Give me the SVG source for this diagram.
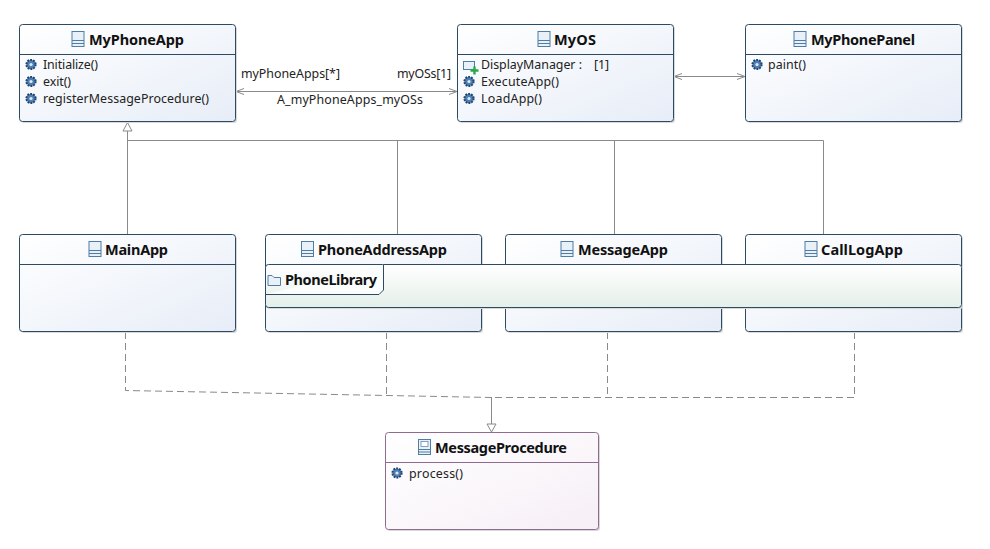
<svg xmlns="http://www.w3.org/2000/svg" width="990" height="549" viewBox="0 0 990 549">
<style>
text{font-family:"Noto Sans","Open Sans","Liberation Sans",sans-serif;fill:#222}
.t{font-size:14.5px;font-weight:700;fill:#111}
.m{font-size:12.4px}
.l{font-size:12.4px;fill:#222}
.box{fill:url(#blue);stroke:#2c4a63;stroke-width:1}
.ifc{fill:url(#pink);stroke:#8d6c8f;stroke-width:1}
.sh{fill:#d9d9d9}
.div{stroke:#2c4a63;stroke-width:1}
.c{fill:none;stroke:#8a8a8a;stroke-width:1}
.d{fill:none;stroke:#8a8a8a;stroke-width:1;stroke-dasharray:7 4}
</style>
<defs>
<linearGradient id="blue" x1="0" y1="0" x2="1" y2="1"><stop offset="0" stop-color="#ffffff"/><stop offset="1" stop-color="#e7edf7"/></linearGradient>
<linearGradient id="pink" x1="0" y1="0" x2="1" y2="1"><stop offset="0" stop-color="#ffffff"/><stop offset="1" stop-color="#f6eff6"/></linearGradient>
<linearGradient id="green" x1="0" y1="0" x2="0" y2="1"><stop offset="0" stop-color="#ffffff"/><stop offset="1" stop-color="#e4efe9"/></linearGradient>
<g id="gear"><circle r="4.600" fill="#4f7fb0" stroke="#1c4472" stroke-width="2" stroke-dasharray="1.800 1.100"/><circle r="1.600" fill="#dfe9f4"/></g>
<g id="cls"><rect x="-6" y="-7.500" width="12" height="15" fill="#e8f0f8" stroke="#4f7da6"/><path d="M-6 1.500H6M-6 4.500H6" stroke="#4f7da6" fill="none"/></g>
<g id="itf"><rect x="-6" y="-7.500" width="12" height="15" fill="#e8f0f8" stroke="#4f7da6"/><path d="M-6 2.500H6M-6 5H6" stroke="#4f7da6" fill="none"/><rect x="-3.500" y="-5.500" width="7" height="5" fill="#fff" stroke="#4f7da6" stroke-width=".7"/></g>
</defs>
<rect width="990" height="549" fill="#fff"/>

<g id="connectors">
<path class="c" d="M236 91.500H457M244 88.500L236 91.500L244 94.500M449 88.500L457 91.500L449 94.500"/>
<path class="c" d="M674 76.500H745M682 73.500L674 76.500L682 79.500M737 73.500L745 76.500L737 79.500"/>
<path class="c" d="M127.500 131V234M127.500 140.500H823.500V234M397.500 140.500V234M614.500 140.500V234"/>
<path d="M127.500 122.500L123 131H132Z" fill="#fff" stroke="#8a8a8a"/>
<path class="d" d="M125.500 332V390.500L491.500 397.500"/>
<path class="d" d="M386.500 332V397"/>
<path class="d" d="M607.500 332V397"/>
<path class="d" d="M854.500 332V397.500H491.500"/>
<path class="c" d="M491.500 397V424"/>
<path d="M491.500 432L487 424H496Z" fill="#fff" stroke="#8a8a8a"/>
<text class="l" x="241" y="77.500" textLength="99">myPhoneApps[*]</text>
<text class="l" x="397" y="77.500" textLength="54">myOSs[1]</text>
<text class="l" x="277" y="103.500" textLength="146">A_myPhoneApps_myOSs</text>
</g>

<g id="MyPhoneApp">
<rect class="sh" x="21" y="26" width="216" height="97" rx="3"/>
<rect class="box" x="19.500" y="24.500" width="216" height="97" rx="3"/>
<path class="div" d="M20 54.500H235"/>
<use href="#cls" x="78" y="39"/>
<text class="t" x="89" y="44.500" textLength="95">MyPhoneApp</text>
<use href="#gear" x="31" y="64.500"/><text class="m" x="43" y="68.500" textLength="55">Initialize()</text>
<use href="#gear" x="31" y="81.500"/><text class="m" x="43" y="85.500" textLength="28">exit()</text>
<use href="#gear" x="31" y="98.500"/><text class="m" x="43" y="102.500" textLength="166">registerMessageProcedure()</text>
</g>

<g id="MyOS">
<rect class="sh" x="459" y="26" width="216" height="97" rx="3"/>
<rect class="box" x="457.500" y="24.500" width="216" height="97" rx="3"/>
<path class="div" d="M458 54.500H673"/>
<use href="#cls" x="544" y="39"/>
<text class="t" x="554" y="44.500" textLength="42">MyOS</text>
<rect x="463.500" y="61.500" width="11" height="8" fill="#e8f0f8" stroke="#4f7da6"/>
<path d="M470.500 70.500H478.500M474.500 66.500V74.500" stroke="#2aa84a" stroke-width="2.400" fill="none"/>
<text class="m" x="481" y="68.500" textLength="101">DisplayManager :</text>
<text class="m" x="594" y="68.500" textLength="15">[1]</text>
<use href="#gear" x="469" y="81.500"/><text class="m" x="481" y="85.500" textLength="78">ExecuteApp()</text>
<use href="#gear" x="469" y="98.500"/><text class="m" x="481" y="102.500" textLength="61">LoadApp()</text>
</g>

<g id="MyPhonePanel">
<rect class="sh" x="747" y="26" width="216" height="97" rx="3"/>
<rect class="box" x="745.500" y="24.500" width="216" height="97" rx="3"/>
<path class="div" d="M746 54.500H961"/>
<use href="#cls" x="800" y="39"/>
<text class="t" x="811" y="44.500" textLength="104">MyPhonePanel</text>
<use href="#gear" x="757" y="64.500"/><text class="m" x="768" y="68.500" textLength="38">paint()</text>
</g>

<g id="MainApp">
<rect class="sh" x="21" y="236" width="216" height="97" rx="3"/>
<rect class="box" x="19.500" y="234.500" width="216" height="97" rx="3"/>
<path class="div" d="M20 264.500H235"/>
<use href="#cls" x="95" y="249"/>
<text class="t" x="105" y="254.500" textLength="63">MainApp</text>
</g>

<g id="PhoneAddressApp">
<rect class="sh" x="267" y="236" width="216" height="97" rx="3"/>
<rect class="box" x="265.500" y="234.500" width="216" height="97" rx="3"/>
<use href="#cls" x="307.500" y="249"/>
<text class="t" x="318" y="254.500" textLength="129">PhoneAddressApp</text>
</g>

<g id="MessageApp">
<rect class="sh" x="507" y="236" width="216" height="97" rx="3"/>
<rect class="box" x="505.500" y="234.500" width="216" height="97" rx="3"/>
<use href="#cls" x="567" y="249"/>
<text class="t" x="578" y="254.500" textLength="90">MessageApp</text>
</g>

<g id="CallLogApp">
<rect class="sh" x="747" y="236" width="216" height="97" rx="3"/>
<rect class="box" x="745.500" y="234.500" width="216" height="97" rx="3"/>
<use href="#cls" x="811" y="249"/>
<text class="t" x="821" y="254.500" textLength="82">CallLogApp</text>
</g>

<g id="PhoneLibrary">
<rect class="sh" x="267" y="266" width="696" height="43" rx="3"/>
<rect x="265.500" y="264.500" width="696" height="43" rx="3" fill="url(#green)" stroke="#2c4a63"/>
<path d="M265.500 294.500H379L383.500 290V264.500" fill="#fbfdfc" stroke="#2c4a63"/>
<path d="M268 275.500H272L274 277.500H280.500V285.500H268Z" fill="#e8f0f8" stroke="#4f7da6"/>
<text class="t" x="285" y="285" textLength="92">PhoneLibrary</text>
</g>

<g id="MessageProcedure">
<rect class="sh" x="387" y="434" width="213" height="97" rx="3"/>
<rect class="ifc" x="385.500" y="432.500" width="213" height="97" rx="3"/>
<path d="M386 462.500H598" stroke="#8d6c8f" fill="none"/>
<use href="#itf" x="424.500" y="447"/>
<text class="t" x="435" y="453" textLength="132">MessageProcedure</text>
<use href="#gear" x="397" y="473"/><text class="m" x="409" y="477.500" textLength="54">process()</text>
</g>
</svg>
